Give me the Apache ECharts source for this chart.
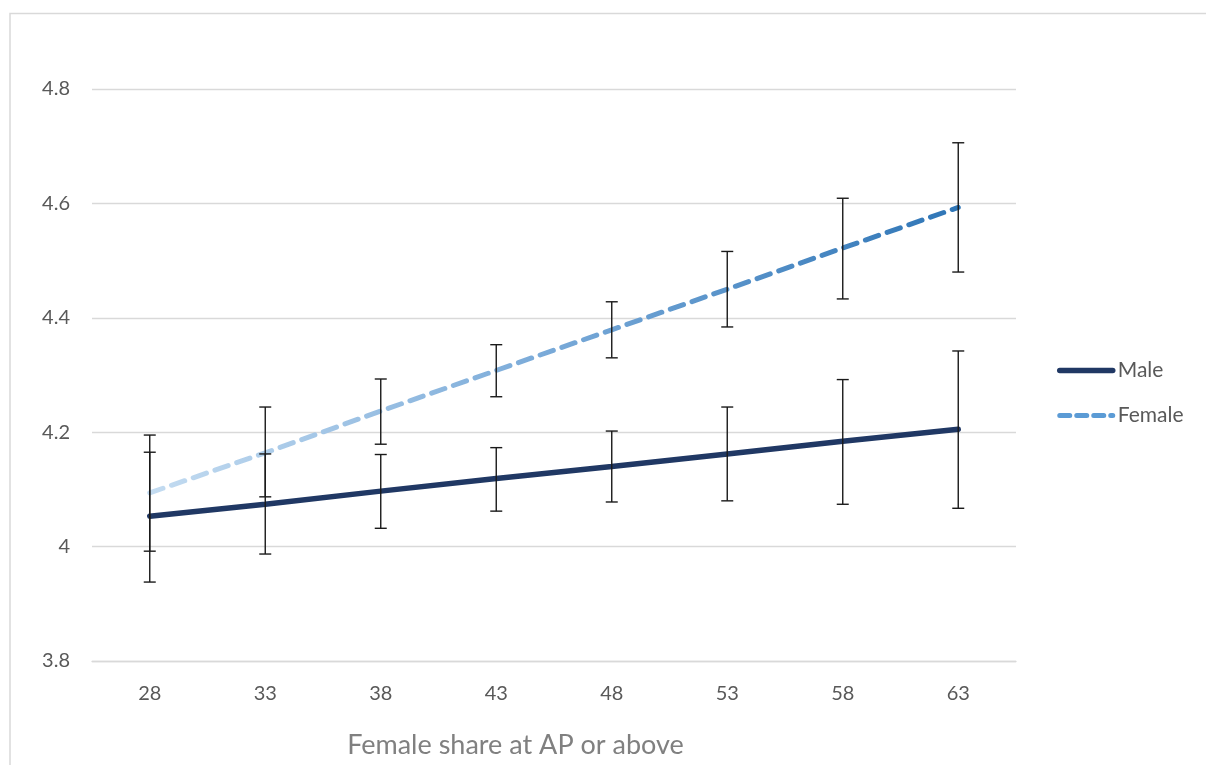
<!DOCTYPE html>
<html>
<head>
<meta charset="utf-8">
<script src="https://cdn.jsdelivr.net/npm/echarts@6/dist/echarts.min.js"></script>
<style>
html,body{margin:0;padding:0;background:#fff;}
#chart{width:1206px;height:765px;}
</style>
</head>
<body>
<div id="chart"></div>
<script>
const categories = ['28','33','38','43','48','53','58','63'];
const male = [4.053, 4.074, 4.097, 4.119, 4.140, 4.162, 4.184, 4.205];
const female = [4.094, 4.164, 4.237, 4.308, 4.379, 4.450, 4.522, 4.593];
const maleLow = [3.938, 3.987, 4.032, 4.062, 4.078, 4.080, 4.074, 4.067];
const maleHigh = [4.165, 4.162, 4.161, 4.173, 4.202, 4.244, 4.292, 4.342];
const femaleLow = [3.992, 4.087, 4.179, 4.262, 4.330, 4.384, 4.433, 4.480];
const femaleHigh = [4.195, 4.244, 4.293, 4.353, 4.428, 4.516, 4.609, 4.706];

const FONT = 'Lato, "Open Sans", sans-serif';

function errData(low, high) {
  return categories.map((c, i) => [i, low[i], high[i]]);
}
function renderErr(params, api) {
  const x = api.value(0);
  const lo = api.coord([x, api.value(1)]);
  const hi = api.coord([x, api.value(2)]);
  const hw = 6;
  const style = { stroke: '#1a1a1a', lineWidth: 1.4 };
  return {
    type: 'group',
    children: [
      { type: 'line', shape: { x1: lo[0], y1: lo[1], x2: hi[0], y2: hi[1] }, style },
      { type: 'line', shape: { x1: lo[0] - hw, y1: lo[1], x2: lo[0] + hw, y2: lo[1] }, style },
      { type: 'line', shape: { x1: hi[0] - hw, y1: hi[1], x2: hi[0] + hw, y2: hi[1] }, style }
    ]
  };
}

const femaleGrad = new echarts.graphic.LinearGradient(0, 0, 1, 0, [
  { offset: 0, color: '#c4dcf1' },
  { offset: 0.5, color: '#78a9d8' },
  { offset: 1, color: '#2e75b6' }
]);
const legendGrad = new echarts.graphic.LinearGradient(0, 0, 0, 1, [
  { offset: 0, color: '#9dc3e6' },
  { offset: 1, color: '#2e75b6' }
]);

const chart = echarts.init(document.getElementById('chart'), null, { renderer: 'canvas' });
chart.setOption({
  backgroundColor: '#fff',
  animation: false,
  graphic: [{
    type: 'rect',
    shape: { x: 10, y: 13.5, width: 1400, height: 900 },
    style: { fill: 'none', stroke: '#d9d9d9', lineWidth: 1.5 },
    silent: true
  }],
  grid: { left: 92, right: 190, top: 89, bottom: 104 },
  legend: {
    orient: 'vertical',
    left: 1052,
    top: 355,
    itemWidth: 53,
    itemHeight: 22,
    itemGap: 24,
    itemStyle: { opacity: 0 },
    textStyle: { fontFamily: FONT, fontSize: 21, color: '#595959' },
    data: [
      { name: 'Male', lineStyle: { width: 5.5, color: '#203864', cap: 'round' } },
      { name: 'Female', lineStyle: { width: 5, type: [10, 7], cap: 'round', color: '#5b9bd5' } }
    ]
  },
  xAxis: {
    type: 'category',
    data: categories,
    boundaryGap: true,
    axisLine: { show: true, lineStyle: { color: '#d9d9d9', width: 1.3 } },
    axisTick: { show: false },
    axisLabel: { fontFamily: FONT, fontSize: 20, color: '#595959', margin: 23 },
    name: 'Female share at AP or above',
    nameLocation: 'middle',
    nameGap: 71,
    nameTextStyle: { fontFamily: FONT, fontSize: 27, color: '#808080', padding: [0, 77, 0, 0] }
  },
  yAxis: {
    type: 'value',
    min: 3.8,
    max: 4.8,
    interval: 0.2,
    axisLine: { show: false },
    axisTick: { show: false },
    splitLine: { lineStyle: { color: '#d9d9d9', width: 1.3 } },
    axisLabel: { fontFamily: FONT, fontSize: 20, color: '#595959', margin: 22,
      formatter: v => String(Math.round(v * 10) / 10) }
  },
  series: [
    {
      name: 'Male',
      type: 'line',
      data: male,
      showSymbol: false,
      symbol: 'none',
      lineStyle: { color: '#203864', width: 5.5, cap: 'round' },
      itemStyle: { color: '#203864' },
      z: 2
    },
    {
      name: 'Female',
      type: 'line',
      data: female,
      showSymbol: false,
      symbol: 'none',
      lineStyle: { width: 5, type: [14, 9], cap: 'round', color: femaleGrad },
      itemStyle: { color: '#5b9bd5' },
      z: 2
    },
    {
      name: 'maleErr',
      type: 'custom',
      data: errData(maleLow, maleHigh),
      renderItem: renderErr,
      encode: { x: 0, y: [1, 2] },
      silent: true,
      z: 3
    },
    {
      name: 'femaleErr',
      type: 'custom',
      data: errData(femaleLow, femaleHigh),
      renderItem: renderErr,
      encode: { x: 0, y: [1, 2] },
      silent: true,
      z: 3
    }
  ]
});
</script>
</body>
</html>
